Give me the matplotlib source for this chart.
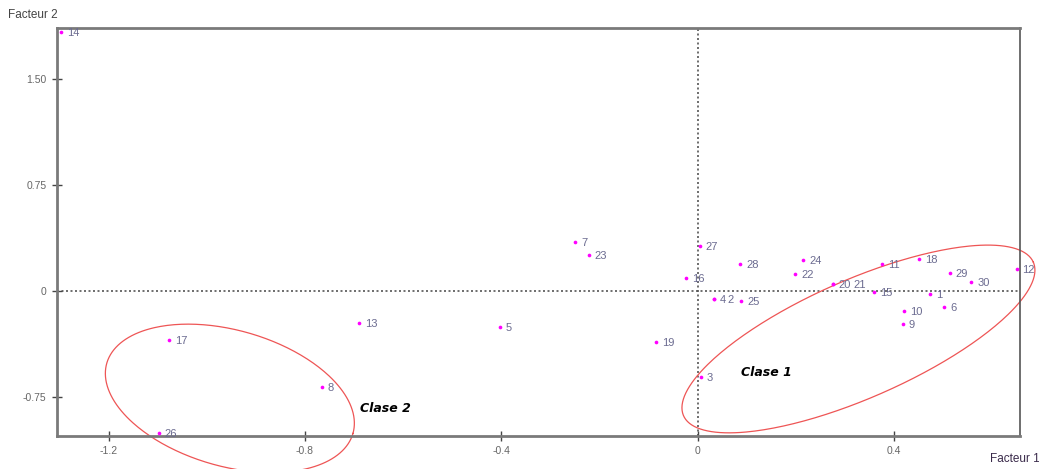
import numpy as np
import matplotlib
matplotlib.use("Agg")
import matplotlib.pyplot as plt

# coordonnees des individus sur le plan factoriel (F1, F2)
labels = ['1', '2', '3', '4', '5', '6', '7', '8', '9', '10',
          '11', '12', '13', '14', '15', '16', '17', '18', '19', '20',
          '21', '22', '23', '24', '25', '26', '27', '28', '29', '30']
f1 = [0.473, 0.032, 0.006, 0.032, -0.403, 0.502, -0.250, -0.766, 0.417, 0.420,
      0.375, 0.649, -0.690, -1.297, 0.359, -0.024, -1.077, 0.451, -0.086, 0.275,
      0.275, 0.198, -0.222, 0.214, 0.088, -1.098, 0.004, 0.086, 0.513, 0.557]
f2 = [-0.019, -0.054, -0.607, -0.054, -0.255, -0.113, 0.348, -0.681, -0.236, -0.139,
      0.189, 0.154, -0.229, 1.837, -0.010, 0.092, -0.348, 0.227, -0.359, 0.050,
      0.050, 0.121, 0.255, 0.220, -0.068, -1.005, 0.319, 0.191, 0.125, 0.062]

xticks = [-1.2, -0.8, -0.4, 0, 0.4]
xticklabels = ['-1.2', '-0.8', '-0.4', '0', '0.4']
yticks = [1.5, 0.75, 0, -0.75]
yticklabels = ['1.50', '0.75', '0', '-0.75']

# classes : centre (F1, F2), demi-axes et angle en pixels
classes = ['Clase 1', 'Clase 2']
class_center = [(0.327, -0.340), (-0.953, -0.761)]
class_axes = [(191, 59), (128, 68)]
class_angle = [23.7, -15.9]
class_text_pos = [(0.088, -0.58), (-0.688, -0.83)]

# decalage des etiquettes qui se chevauchent (pixels)
label_dx = {'2': 14, '21': 21}

W, H = 1039, 469
fig = plt.figure(figsize=(W / 100, H / 100), dpi=100)
ax = fig.add_axes([57 / W, 33 / H, 963 / W, 408 / H])
ax.set_xlim(-1.305, 0.656)
ax.set_ylim(-1.028, 1.865)

for side in ['left', 'bottom', 'top']:
    ax.spines[side].set_color('#7a7a7a')
    ax.spines[side].set_linewidth(2)
ax.spines['right'].set_color('#555555')
ax.spines['right'].set_linewidth(1.2)

ax.axhline(0, color='#555555', lw=1.2, ls=(0, (1.2, 1.5)), zorder=1)
ax.axvline(0, color='#555555', lw=1.2, ls=(0, (1.2, 1.5)), zorder=1)

ax.set_xticks(xticks)
ax.set_xticklabels(xticklabels)
ax.set_yticks(yticks)
ax.set_yticklabels(yticklabels)
ax.tick_params(direction='inout', length=7, width=1, color='#444444',
               labelsize=7.5, labelcolor='#666666', pad=4)
for t in ax.get_xticklabels() + ax.get_yticklabels():
    t.set_family('Liberation Sans')

ax.scatter(f1, f2, s=7, marker='o', color='#ff00ff', linewidths=0,
           zorder=3, clip_on=False)
for lab, x, y in zip(labels, f1, f2):
    dx = label_dx.get(lab, 6)
    ax.annotate(lab, (x, y), xytext=(dx, -1), textcoords='offset pixels',
                fontsize=8, color='#6b6b90', family='Liberation Sans',
                va='center', ha='left', zorder=4, annotation_clip=False)

# ellipses des classes
fig.canvas.draw()
p0 = ax.transData.transform((0, 0))
px = ax.transData.transform((1, 1)) - p0
t = np.linspace(0, 2 * np.pi, 300)
for name, c, (a, b), ang, tp in zip(classes, class_center, class_axes,
                                    class_angle, class_text_pos):
    th = np.radians(ang)
    ex = c[0] + (a * np.cos(t) * np.cos(th) - b * np.sin(t) * np.sin(th)) / px[0]
    ey = c[1] + (a * np.cos(t) * np.sin(th) + b * np.sin(t) * np.cos(th)) / px[1]
    ax.plot(ex, ey, color='#ee5555', lw=0.9, clip_on=False, zorder=2)
    ax.text(tp[0], tp[1], name, fontsize=9, fontweight='bold', style='italic',
            color='black', va='center', ha='left')

fig.text(8 / W, 1 - 15 / H, 'Facteur 2', fontsize=8.5, color='#444444',
         family='Liberation Sans', va='center', ha='left')
fig.text(990 / W, 1 - 459 / H, 'Facteur 1', fontsize=8.5, color='#3a2a4a',
         family='Liberation Sans', va='center', ha='left')

fig.savefig('out.png', dpi=100)
